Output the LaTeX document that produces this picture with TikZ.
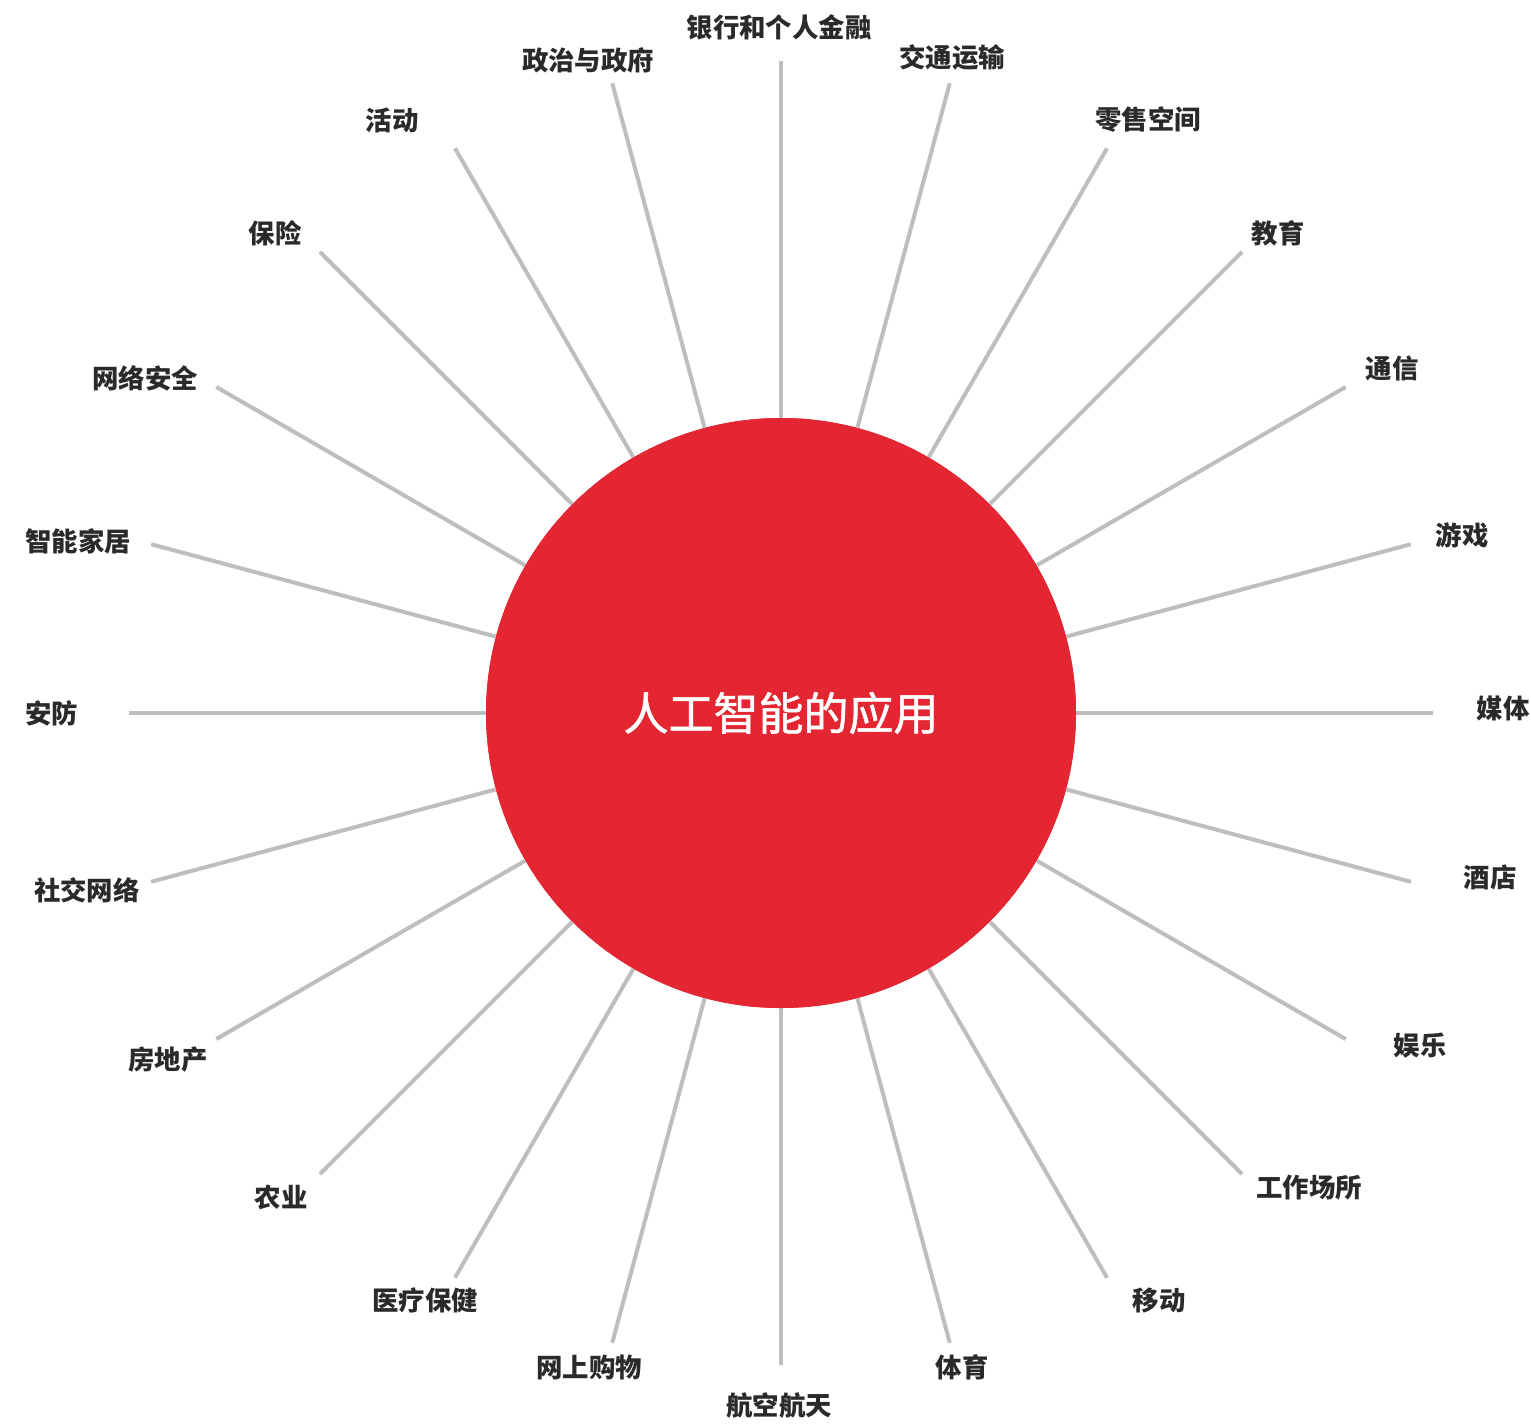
\documentclass[tikz,border=0pt]{standalone}
\usepackage{fontspec}
\newfontfamily\cjk{Noto Sans CJK SC}
\newfontfamily\cjkhub{Noto Sans CJK SC}[FakeBold=1.2]
\definecolor{spokegray}{HTML}{BEBEBE}
\definecolor{hubred}{HTML}{E42532}
\definecolor{labelgray}{HTML}{2A2A2A}
\tikzset{
  spoke/.style={draw=spokegray, line width=2pt},
  hub/.style={circle, fill=hubred, draw=none, minimum size=295pt, inner sep=0pt,
    text=white, font=\cjkhub\fontsize{22.5}{26}\selectfont},
  lbl/.style={text=labelgray, inner sep=0pt, font=\cjk\bfseries\fontsize{13.2}{15}\selectfont}
}
\begin{document}
\begin{tikzpicture}[x=0.5pt, y=-0.5pt]
\useasboundingbox[fill=white] (0,0) rectangle (1531,1424);
\node[hub] (c) at (781,713) {};
\foreach \a/\t/\lx/\ly [count=\i] in {
  90/银行和个人金融/779/27,
  75/交通运输/952/57,
  60/零售空间/1148/120,
  45/教育/1278/233,
  30/通信/1392/368,
  15/游戏/1462/535,
  0/媒体/1503/708,
  -15/酒店/1490/877,
  -30/娱乐/1420/1046,
  -45/工作场所/1309/1188,
  -60/移动/1159/1301,
  -75/体育/962/1367,
  -90/航空航天/779/1405,
  -105/网上购物/589/1367,
  -120/医疗保健/425/1300,
  -135/农业/281/1198,
  -150/房地产/168/1060,
  -165/社交网络/87/890,
  180/安防/52/713,
  165/智能家居/78/541,
  150/网络安全/145/378,
  135/保险/275/233,
  120/活动/392/120,
  105/政治与政府/588/60}{
  \coordinate (e\i) at ({781+652*cos(\a)},{713-652*sin(\a)});
  \draw[spoke] (c) -- (e\i);
  \node[lbl] (l\i) at (\lx,\ly) {\t};
}
\node[hub, fill=hubred] (c2) at (781,713) {人工智能的应用};
\end{tikzpicture}
\end{document}
